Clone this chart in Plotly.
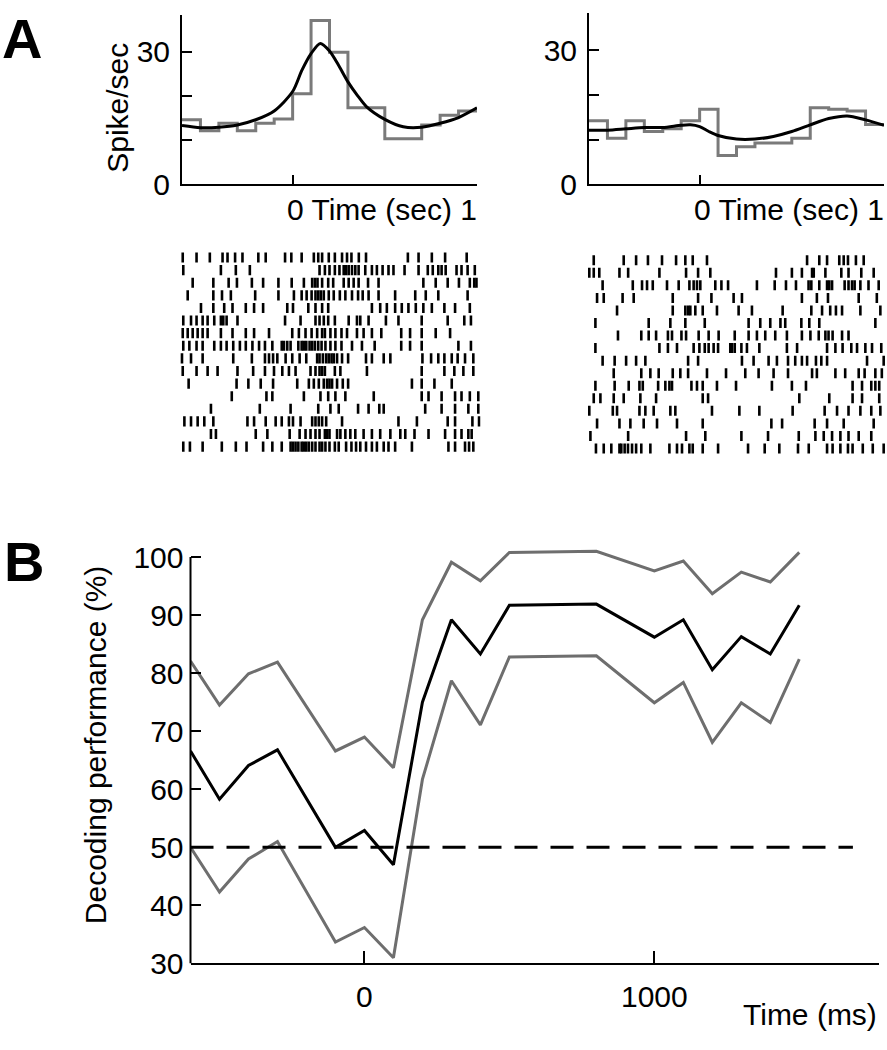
import plotly.graph_objects as go

W, H = 887, 1050
def px(x): return x / W
def py(y): return 1 - y / H

FONT = "Arial, Liberation Sans, sans-serif"
GRAY = "#6e6e6e"

# ---------------- Panel A: PSTH data ----------------
bin_edges = [-0.6, -0.5, -0.4, -0.3, -0.2, -0.1, 0.0, 0.1, 0.2, 0.3, 0.4, 0.5, 0.6, 0.7, 0.8, 0.9, 1.0]
left_rate = [14.6, 12.1, 13.8, 12.1, 13.8, 14.8, 20.5, 37.1, 29.9, 17.3, 17.3, 10.3, 10.3, 13.4, 15.6, 16.6]
right_rate = [14.2, 10.3, 14.2, 11.8, 12.4, 14.2, 16.8, 6.4, 8.4, 9.2, 9.2, 10.3, 17.1, 16.8, 16.4, 13.4]

left_smooth_t = [-0.6, -0.5, -0.4, -0.3, -0.2, -0.1, 0.0, 0.05, 0.1, 0.15, 0.2, 0.25, 0.3, 0.35, 0.4, 0.5, 0.6, 0.7, 0.8, 0.9, 1.0]
left_smooth = [13.3, 12.8, 12.9, 13.4, 14.6, 16.6, 21.0, 25.8, 29.6, 31.9, 30.2, 26.9, 23.2, 20.2, 17.6, 14.7, 13.0, 12.9, 13.8, 15.1, 17.3]
right_smooth_t = [-0.6, -0.5, -0.4, -0.3, -0.2, -0.1, -0.05, 0.0, 0.05, 0.1, 0.2, 0.3, 0.4, 0.5, 0.6, 0.7, 0.8, 0.9, 1.0]
right_smooth = [12.1, 12.1, 12.4, 12.7, 12.7, 13.2, 13.3, 12.9, 11.8, 10.9, 10.1, 10.1, 10.7, 11.8, 13.3, 14.7, 15.3, 14.4, 13.2]

# ---------------- Panel A: raster spike times (ms) ----------------
left_spikes = [
    [-596,-521,-449,-380,-353,-312,-272,-186,-146,-41,-7,49,115,139,160,196,229,268,295,319,359,398,625,683,755,827,944],
    [-593,-389,-308,-232,146,175,200,229,254,277,290,304,322,340,358,394,430,457,488,520,547,607,683,733,760,790,808,830,889,916,949,988],
    [-542,-430,-347,-302,-221,-160,-77,-5,61,106,121,135,160,193,220,277,304,331,358,409,466,709,776,841,902,961,985,997],
    [-569,-430,-383,-335,-203,-77,7,49,76,103,124,139,153,169,196,223,256,286,322,355,380,412,466,556,665,722,790,949],
    [-497,-430,-371,-326,-254,-209,-160,-29,2,85,124,160,193,430,475,511,556,592,628,668,709,755,823,881,961],
    [-593,-551,-521,-488,-461,-425,-389,-376,-358,-299,-41,43,124,146,169,193,229,304,349,367,412,506,574,700,841,931,967],
    [-596,-569,-542,-515,-488,-461,-389,-326,-254,-209,-128,-2,34,70,103,133,160,175,205,232,265,295,349,385,430,481,589,637,700,776,854],
    [-593,-560,-521,-488,-425,-389,-358,-322,-286,-254,-218,-182,-150,-110,-59,-47,-29,-11,31,49,61,74,92,106,121,139,157,178,205,232,265,322,376,445,589,637,700,899,967],
    [-600,-551,-488,-322,-221,-150,-128,-106,-83,-38,-2,38,74,133,146,164,182,196,211,223,241,268,301,398,430,494,530,704,751,790,823,863,895,935,980],
    [-596,-521,-461,-407,-299,-214,-150,-101,-56,-20,16,97,124,146,160,175,229,259,403,700,823,877,926,980],
    [-564,-304,-240,-173,-106,25,88,115,142,169,187,200,214,241,272,301,647,700,769,863],
    [-330,-142,-110,61,151,193,232,286,440,700,737,808,881,916,961,1007],
    [-443,-178,-11,139,205,250,355,412,470,494,719,808,881,953,1007],
    [-587,-551,-515,-479,-430,-245,-209,-146,-92,-59,-20,2,43,106,124,142,160,182,268,574,674,841,881,975,1011],
    [-443,-416,-200,-137,-16,38,70,97,124,146,175,187,200,241,259,286,313,340,385,430,475,530,584,611,661,737,827,881,916,953,971],
    [-593,-557,-488,-384,-308,-250,-160,-110,-59,-11,2,16,31,49,61,74,88,106,124,146,160,178,200,229,250,290,319,344,367,398,430,457,494,520,556,647,845,881,935,957,980],
]
right_spikes = [
    [-569,-407,-340,-276,-200,-124,-74,-34,43,584,650,692,758,782,805,848,890],
    [-593,-569,-539,-430,-383,-214,-70,-5,61,416,502,556,611,620,683,769,808,877,944],
    [-521,-358,-308,-281,-250,-173,-110,-52,-29,-11,7,88,121,157,313,409,470,524,592,607,650,692,704,719,787,808,827,841,872,916,971],
    [-551,-515,-413,-353,-142,-5,67,187,232,556,637,697,863,961],
    [-443,-142,-74,-59,-47,-20,20,97,214,286,452,607,665,709,740,773,872,980],
    [-560,-272,-155,-74,31,268,331,385,440,466,553,596,650,953],
    [-438,-312,-272,-232,-168,-146,-95,-70,-2,52,106,193,268,313,358,412,475,556,602,647,683,700,722,773,808],
    [-560,-214,-168,-119,-29,2,31,52,79,103,169,178,193,229,259,326,475,530,692,737,776,823,854,899,935,985],
    [-521,-456,-394,-340,-290,-59,-5,232,295,376,421,481,520,556,584,632,661,692,908,998],
    [-461,-312,-263,-218,-142,-101,-59,43,146,250,322,403,481,611,637,737,790,863,895,953,988],
    [-560,-456,-380,-322,-304,-221,-182,-160,-146,-41,-11,20,97,200,394,502,578,830,881,931,953,974],
    [-569,-533,-461,-407,-317,-232,20,49,542,704,830,881,974],
    [-593,-466,-443,-322,-290,-245,-155,-128,70,218,326,506,679,746,808,872,931,980],
    [-551,-430,-371,-299,-227,-119,20,391,449,625,692,782,944],
    [-587,-383,-70,34,229,373,539,629,674,719,764,808,863,931],
    [-557,-515,-474,-430,-420,-402,-384,-362,-340,-312,-263,-160,-119,-92,-52,-34,20,103,265,355,434,535,593,692,722,764,805,830,885,939,998],
]

# ---------------- Panel B: decoding performance ----------------
time_ms = [-600, -500, -400, -300, -100, 0, 100, 200, 300, 400, 500, 800, 1000, 1100, 1200, 1300, 1400, 1500]
upper_ci = [82.1, 74.5, 79.9, 81.9, 66.6, 69.0, 63.7, 89.2, 99.1, 95.9, 100.8, 101.0, 97.6, 99.3, 93.7, 97.4, 95.7, 100.8]
mean_perf = [66.6, 58.3, 64.1, 66.8, 50.0, 52.9, 47.0, 75.0, 89.2, 83.3, 91.7, 91.9, 86.2, 89.2, 80.6, 86.3, 83.3, 91.7]
lower_ci = [50.0, 42.3, 48.0, 51.0, 33.7, 36.2, 31.0, 61.7, 78.7, 71.1, 82.8, 83.0, 74.9, 78.4, 68.1, 74.9, 71.5, 82.4]
chance_x = [-600, 1685]
chance_y = [50, 50]

fig = go.Figure()

# PSTHs
for xa, ya, rate, st, sv in [("x", "y", left_rate, left_smooth_t, left_smooth),
                             ("x2", "y2", right_rate, right_smooth_t, right_smooth)]:
    fig.add_trace(go.Scatter(x=bin_edges, y=rate + [rate[-1]], mode="lines",
                             line=dict(color="#7a7a7a", width=3, shape="hv"),
                             xaxis=xa, yaxis=ya, showlegend=False, hoverinfo="skip"))
    fig.add_trace(go.Scatter(x=st, y=sv, mode="lines",
                             line=dict(color="black", width=3, shape="spline", smoothing=0.8),
                             xaxis=xa, yaxis=ya, showlegend=False, hoverinfo="skip"))

# Rasters
def raster_xy(rows):
    xs, ys = [], []
    for i, row in enumerate(rows, start=1):
        for t in row:
            xs += [t, t, None]
            ys += [i - 0.4, i + 0.4, None]
    return xs, ys

for xa, ya, rows in [("x3", "y3", left_spikes), ("x4", "y4", right_spikes)]:
    xs, ys = raster_xy(rows)
    fig.add_trace(go.Scatter(x=xs, y=ys, mode="lines", line=dict(color="black", width=2.6),
                             xaxis=xa, yaxis=ya, showlegend=False, hoverinfo="skip"))

# Panel B
for yv, col in [(upper_ci, GRAY), (lower_ci, GRAY), (mean_perf, "black")]:
    fig.add_trace(go.Scatter(x=time_ms, y=yv, mode="lines", line=dict(color=col, width=3),
                             xaxis="x5", yaxis="y5", showlegend=False, hoverinfo="skip"))
fig.add_trace(go.Scatter(x=chance_x, y=chance_y, mode="lines",
                         line=dict(color="black", width=3, dash="23px,13px"),
                         xaxis="x5", yaxis="y5", showlegend=False, hoverinfo="skip"))

tickfont = dict(family=FONT, size=30, color="black")
psth_x = dict(range=[-0.6, 1.0], showline=True, linewidth=2, linecolor="black",
              ticks="inside", ticklen=9, tickwidth=2, tickcolor="black",
              tickvals=[0, 1], showticklabels=False, showgrid=False, zeroline=False)
psth_y = dict(range=[0, 38.4], showline=True, linewidth=2, linecolor="black",
              ticks="inside", ticklen=10, tickwidth=2, tickcolor="black",
              tickvals=[0, 10, 20, 30], ticktext=["0", "", "", "30"], tickfont=tickfont,
              showgrid=False, zeroline=False, ticklabelstandoff=4)
hidden = dict(visible=False, showgrid=False, zeroline=False)

fig.update_layout(
    width=W, height=H, margin=dict(l=0, r=0, t=0, b=0), autosize=False,
    paper_bgcolor="white", plot_bgcolor="rgba(0,0,0,0)",
    font=dict(family=FONT, size=30, color="black"),
    xaxis=dict(domain=[px(182), px(477)], anchor="y", **psth_x),
    yaxis=dict(domain=[py(183), py(10)], anchor="x", **psth_y),
    xaxis2=dict(domain=[px(589), px(884)], anchor="y2", **psth_x),
    yaxis2=dict(domain=[py(183), py(8)], anchor="x2", **psth_y),
    xaxis3=dict(domain=[px(178.3), px(480.7)], range=[-620, 1020], anchor="y3", **hidden),
    yaxis3=dict(domain=[py(457.5), py(251.5)], range=[16.5, 0.5], anchor="x3", **hidden),
    xaxis4=dict(domain=[px(584.3), px(885.9)], range=[-620, 1010], anchor="y4", **hidden),
    yaxis4=dict(domain=[py(459.4), py(254.3)], range=[16.5, 0.5], anchor="x4", **hidden),
    xaxis5=dict(domain=[px(190.5), px(879)], range=[-600, 1775], anchor="y5",
                showline=True, linewidth=2, linecolor="black",
                ticks="inside", ticklen=12, tickwidth=2, tickcolor="black",
                tickvals=[0, 1000], ticktext=["0", "1000"], tickfont=tickfont,
                showgrid=False, zeroline=False, ticklabelstandoff=6),
    yaxis5=dict(domain=[py(979), py(552)], range=[30, 102], anchor="x5",
                showline=False, ticks="inside", ticklen=10, tickwidth=2, tickcolor="black",
                tickvals=[30, 40, 50, 60, 70, 80, 90, 100], tickfont=tickfont,
                showgrid=False, zeroline=False, ticklabelstandoff=6),
    shapes=[dict(type="line", xref="x5 domain", yref="y5", x0=0, x1=0, y0=30, y1=100,
                 line=dict(color="black", width=2))],
    annotations=[
        dict(text="<b>A</b>", x=px(0), y=1, xref="paper", yref="paper",
             xanchor="left", yanchor="top", showarrow=False, font=dict(family=FONT, size=56)),
        dict(text="<b>B</b>", x=px(2), y=py(568), xref="paper", yref="paper",
             xanchor="left", yanchor="middle", showarrow=False, font=dict(family=FONT, size=56)),
        dict(text="Spike/sec", x=px(118), y=py(105), xref="paper", yref="paper", textangle=-90,
             xanchor="center", yanchor="middle", showarrow=False, font=dict(family=FONT, size=30)),
        dict(text="0 Time (sec) 1", x=0, xref="x", y=py(209), yref="paper", xshift=-8,
             xanchor="left", yanchor="middle", showarrow=False, font=dict(family=FONT, size=30)),
        dict(text="0 Time (sec) 1", x=0, xref="x2", y=py(209), yref="paper", xshift=-8,
             xanchor="left", yanchor="middle", showarrow=False, font=dict(family=FONT, size=30)),
        dict(text="Decoding performance (%)", x=px(95), y=py(756), xref="paper", yref="paper",
             textangle=-90, xanchor="center", yanchor="middle", showarrow=False,
             font=dict(family=FONT, size=30)),
        dict(text="Time (ms)", x=px(879), y=py(1031), xref="paper", yref="paper",
             xanchor="right", yanchor="middle", showarrow=False, font=dict(family=FONT, size=30)),
    ],
)

fig.write_html("out.html", config={"displayModeBar": False},
               post_script="document.body.style.margin='0';document.body.style.overflow='hidden';")
